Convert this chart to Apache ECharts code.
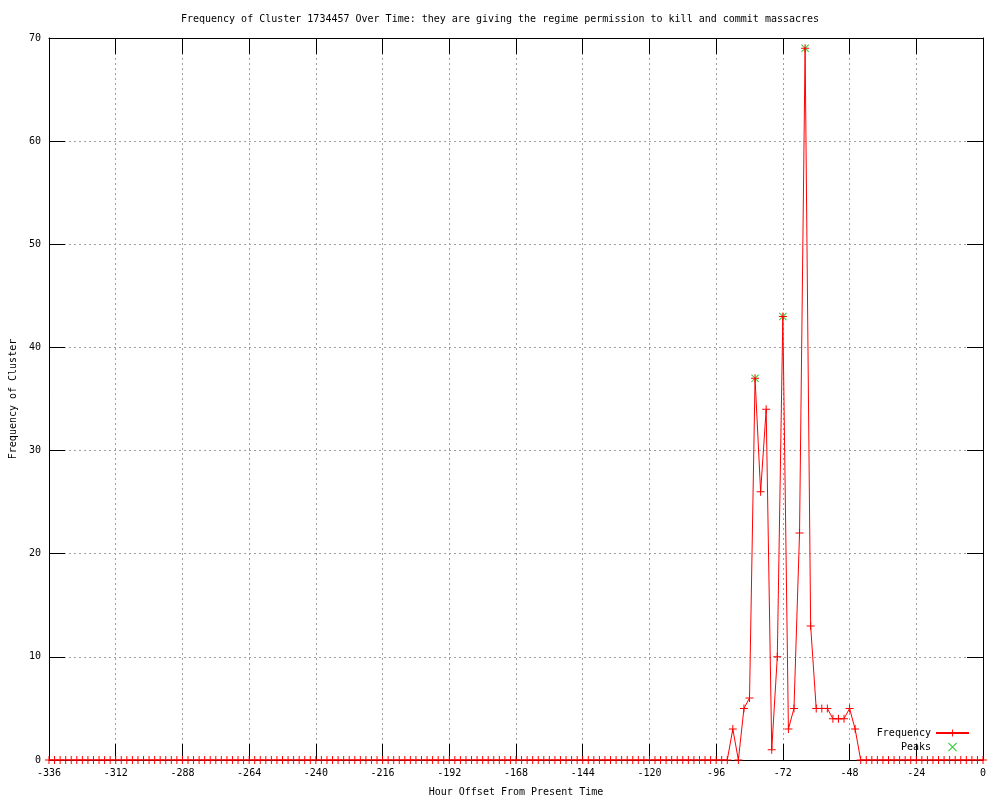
<!DOCTYPE html>
<html>
<head>
<meta charset="utf-8">
<title>Frequency of Cluster 1734457</title>
<script src="https://cdn.jsdelivr.net/npm/echarts@6/dist/echarts.min.js"></script>
<style>
  html, body { margin: 0; padding: 0; background: #fff; }
  #chart { width: 1000px; height: 800px; }
</style>
</head>
<body>
<div id="chart"></div>
<script>
// hours from -336 to 0, one bucket every 2 hours
var startHour = -336;
var stepHour = 2;
var freqValues = [
  0, 0, 0, 0, 0, 0, 0, 0, 0, 0, 0, 0, 0, 0, 0, 0, 0, 0, 0, 0,
  0, 0, 0, 0, 0, 0, 0, 0, 0, 0, 0, 0, 0, 0, 0, 0, 0, 0, 0, 0,
  0, 0, 0, 0, 0, 0, 0, 0, 0, 0, 0, 0, 0, 0, 0, 0, 0, 0, 0, 0,
  0, 0, 0, 0, 0, 0, 0, 0, 0, 0, 0, 0, 0, 0, 0, 0, 0, 0, 0, 0,
  0, 0, 0, 0, 0, 0, 0, 0, 0, 0, 0, 0, 0, 0, 0, 0, 0, 0, 0, 0,
  0, 0, 0, 0, 0, 0, 0, 0, 0, 0, 0, 0, 0, 0, 0, 0, 0, 0, 0, 0,
  0, 0, 0,
  // -90 .. -46
  3, 0, 5, 6, 37, 26, 34, 1, 10, 43, 3, 5, 22, 69, 13, 5, 5, 5, 4, 4, 4, 5, 3,
  // -44 .. 0
  0, 0, 0, 0, 0, 0, 0, 0, 0, 0, 0, 0, 0, 0, 0, 0, 0, 0, 0, 0, 0, 0, 0
];
var peakHours = [-82, -72, -64];
var peakValues = [37, 43, 69];
var xTicks = { min: -336, max: 0, interval: 24 };
var yTicks = { min: 0, max: 70, interval: 10 };

var freqData = freqValues.map(function (v, i) {
  return [startHour + i * stepHour, v];
});
var peakData = peakHours.map(function (h, i) {
  return [h, peakValues[i]];
});

var mono = "DejaVu Sans Mono";
var plusIcon = "path://M-4,-0.5H4V0.5H-4Z M-0.5,-4H0.5V4H-0.5Z";
var crossIcon = "path://M-4,-3.3L-3.3,-4L4,3.3L3.3,4Z M3.3,-4L4,-3.3L-3.3,4L-4,3.3Z";

// gnuplot-like axis: border line, ticks pointing inwards, no labels
function baseAxis(extra) {
  var axis = {
    type: "value",
    axisLine: { show: true, onZero: false, lineStyle: { color: "#000", width: 1 } },
    axisTick: { show: true, inside: true, length: 16, lineStyle: { color: "#000", width: 1 } },
    axisLabel: { show: false },
    splitLine: { show: false }
  };
  return Object.assign(axis, extra);
}

var gridDots = { show: true, lineStyle: { color: "#a0a0a0", type: [2, 3], width: 1 } };
var labelFont = { fontFamily: mono, fontSize: 10, color: "#000" };

var chart = echarts.init(document.getElementById("chart"), null, { renderer: "canvas" });
chart.setOption({
  animation: false,
  backgroundColor: "#fff",
  title: {
    text: "Frequency of Cluster 1734457 Over Time: they are giving the regime permission to kill and commit massacres",
    left: "center",
    top: 9,
    textStyle: { fontFamily: mono, fontSize: 10, fontWeight: "normal", color: "#000" }
  },
  grid: { left: 49, right: 17, top: 38, bottom: 40, containLabel: false, outerBoundsMode: "none" },
  legend: {
    orient: "vertical",
    right: 30,
    bottom: 48,
    padding: 0,
    align: "right",
    itemWidth: 33,
    itemHeight: 9,
    itemGap: 4,
    textStyle: { fontFamily: mono, fontSize: 10, color: "#000", lineHeight: 9 },
    data: [
      { name: "Frequency" },
      { name: "Peaks", icon: crossIcon }
    ]
  },
  xAxis: [
    baseAxis({
      position: "bottom",
      min: xTicks.min,
      max: xTicks.max,
      interval: xTicks.interval,
      name: "Hour Offset From Present Time",
      nameLocation: "middle",
      nameGap: 27,
      nameTextStyle: labelFont,
      axisLabel: Object.assign({ show: true, margin: 8 }, labelFont),
      splitLine: gridDots
    }),
    baseAxis({ position: "top", min: xTicks.min, max: xTicks.max, interval: xTicks.interval })
  ],
  yAxis: [
    baseAxis({
      position: "left",
      min: yTicks.min,
      max: yTicks.max,
      interval: yTicks.interval,
      name: "Frequency of Cluster",
      nameLocation: "middle",
      nameGap: 31,
      nameTextStyle: labelFont,
      axisLabel: Object.assign({ show: true, margin: 8 }, labelFont),
      splitLine: gridDots
    }),
    baseAxis({ position: "right", min: yTicks.min, max: yTicks.max, interval: yTicks.interval })
  ],
  series: [
    {
      name: "Frequency",
      type: "line",
      data: freqData,
      symbol: plusIcon,
      symbolSize: 8,
      showAllSymbol: true,
      itemStyle: { color: "#ff0000" },
      lineStyle: { color: "#ff0000", width: 1 },
      emphasis: { disabled: true }
    },
    {
      name: "Peaks",
      type: "scatter",
      data: peakData,
      symbol: crossIcon,
      symbolSize: 8,
      itemStyle: { color: "#00c000" },
      emphasis: { disabled: true }
    }
  ]
});
</script>
</body>
</html>
